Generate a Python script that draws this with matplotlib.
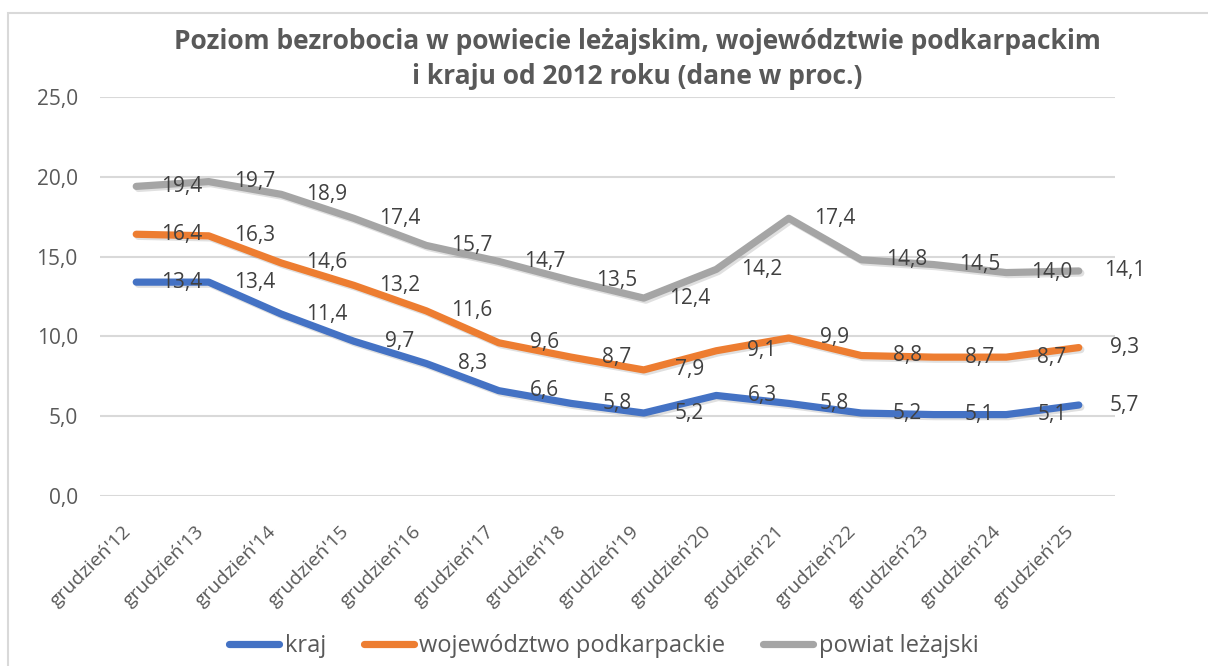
import numpy as np
import matplotlib.pyplot as plt
import matplotlib.patheffects as pe
import matplotlib.transforms as mtransforms
from matplotlib.patches import Rectangle

# --- data ---
categories = ["grudzień'12", "grudzień'13", "grudzień'14", "grudzień'15", "grudzień'16",
              "grudzień'17", "grudzień'18", "grudzień'19", "grudzień'20", "grudzień'21",
              "grudzień'22", "grudzień'23", "grudzień'24", "grudzień'25"]
kraj = [13.4, 13.4, 11.4, 9.7, 8.3, 6.6, 5.8, 5.2, 6.3, 5.8, 5.2, 5.1, 5.1, 5.7]
wojewodztwo = [16.4, 16.3, 14.6, 13.2, 11.6, 9.6, 8.7, 7.9, 9.1, 9.9, 8.8, 8.7, 8.7, 9.3]
powiat = [19.4, 19.7, 18.9, 17.4, 15.7, 14.7, 13.5, 12.4, 14.2, 17.4, 14.8, 14.5, 14.0, 14.1]
series_names = ["kraj", "województwo podkarpackie", "powiat leżajski"]
y_ticks = [0, 5, 10, 15, 20, 25]

plt.rcParams['font.family'] = ['Open Sans', 'DejaVu Sans']

fig = plt.figure(figsize=(12.08, 6.66), dpi=100)
W, H = 1208, 666
ax = fig.add_axes([100 / W, 170 / H, 1015 / W, 399 / H])

# outer chart frame (only top and left edges are visible in the crop)
fig.patches.append(Rectangle((8 / W, -0.1), 1.2, (666 - 13) / H + 0.1,
                             transform=fig.transFigure, fill=False,
                             edgecolor='#D9D9D9', linewidth=1.5))

x = np.arange(len(categories))
colors = ['#4472C4', '#ED7D31', '#A5A5A5']
shadow = [pe.SimpleLineShadow(offset=(1.5, -1.5), shadow_color='black', alpha=0.12), pe.Normal()]

for vals, name, c in zip([kraj, wojewodztwo, powiat], series_names, colors):
    ax.plot(x, vals, color=c, linewidth=5.2, solid_capstyle='round',
            solid_joinstyle='round', label=name, path_effects=shadow, zorder=3)
    for xi, v in zip(x, vals):
        ax.annotate(f"{v:.1f}".replace('.', ','), (xi, v), xytext=(33, 0),
                    textcoords='offset points', ha='center', va='center',
                    fontsize=15, color='#404040', zorder=4)

ax.set_xlim(-0.5, len(categories) - 0.5)
ax.set_ylim(0, 25)
ax.set_yticks(y_ticks)
ax.set_yticklabels([f"{t:.1f}".replace('.', ',') for t in y_ticks], fontsize=15, color='#595959')
ax.set_xticks(x)
ax.set_xticklabels(categories, rotation=45, ha='right', rotation_mode='anchor',
                   fontsize=14, color='#595959')
ax.tick_params(axis='both', length=0)
ax.tick_params(axis='y', pad=16)
ax.tick_params(axis='x', pad=19)
shift = mtransforms.ScaledTranslation(-0.14, 0, fig.dpi_scale_trans)
for lbl in ax.get_xticklabels():
    lbl.set_transform(lbl.get_transform() + shift)
ax.grid(axis='y', color='#D9D9D9', linewidth=1.5)
ax.set_axisbelow(True)
for s in ax.spines.values():
    s.set_visible(False)

fig.text(637 / W, 1 - 59 / H,
         "Poziom bezrobocia w powiecie leżajskim, województwie podkarpackim\ni kraju od 2012 roku (dane w proc.)",
         ha='center', va='center', fontsize=19, fontweight='bold', color='#595959',
         linespacing=1.4)

leg = fig.legend(loc='center', bbox_to_anchor=(604 / W, 1 - 646 / H), ncol=3, frameon=False,
                 fontsize=17, handlelength=2.1, handletextpad=0.25, columnspacing=1.6)
for t in leg.get_texts():
    t.set_color('#595959')
for h in leg.get_lines():
    h.set_linewidth(5.2)
    h.set_path_effects([])

fig.savefig('out.png', dpi=100)
